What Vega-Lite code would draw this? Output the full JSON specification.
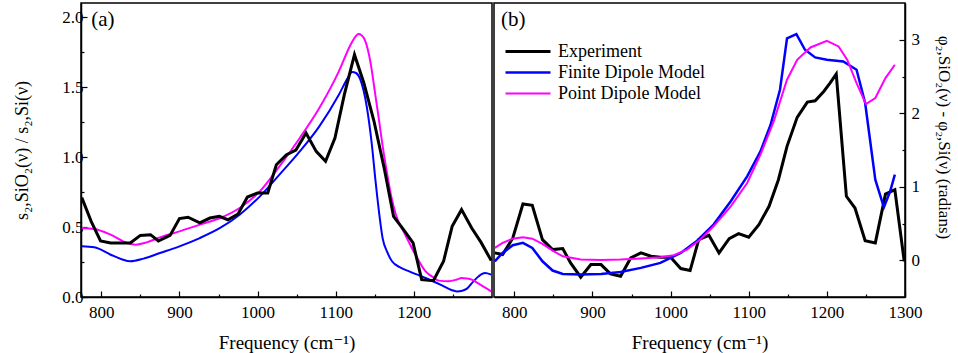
{
  "$schema": "https://vega.github.io/schema/vega-lite/v6.json",
  "padding": {"left": 13, "top": 2, "right": 2, "bottom": 2},
  "background": "white",
  "datasets": {
    "a": [
      {"s":"Experiment","f":775,"v":0.71},{"s":"Experiment","f":787,"v":0.54},{"s":"Experiment","f":799,"v":0.40},{"s":"Experiment","f":812,"v":0.386},{"s":"Experiment","f":837,"v":0.386},{"s":"Experiment","f":850,"v":0.44},{"s":"Experiment","f":863,"v":0.445},{"s":"Experiment","f":873,"v":0.40},{"s":"Experiment","f":888,"v":0.44},{"s":"Experiment","f":900,"v":0.56},{"s":"Experiment","f":911,"v":0.57},{"s":"Experiment","f":926,"v":0.53},{"s":"Experiment","f":939,"v":0.564},{"s":"Experiment","f":951,"v":0.576},{"s":"Experiment","f":962,"v":0.552},{"s":"Experiment","f":975,"v":0.593},{"s":"Experiment","f":987,"v":0.714},{"s":"Experiment","f":1000,"v":0.743},{"s":"Experiment","f":1013,"v":0.743},{"s":"Experiment","f":1024,"v":0.945},{"s":"Experiment","f":1037,"v":1.017},{"s":"Experiment","f":1049,"v":1.05},{"s":"Experiment","f":1062,"v":1.171},{"s":"Experiment","f":1075,"v":1.04},{"s":"Experiment","f":1087,"v":0.969},{"s":"Experiment","f":1099,"v":1.136},{"s":"Experiment","f":1111,"v":1.445},{"s":"Experiment","f":1124,"v":1.731},{"s":"Experiment","f":1136,"v":1.529},{"s":"Experiment","f":1149,"v":1.255},{"s":"Experiment","f":1162,"v":0.921},{"s":"Experiment","f":1174,"v":0.576},{"s":"Experiment","f":1187,"v":0.48},{"s":"Experiment","f":1199,"v":0.386},{"s":"Experiment","f":1210,"v":0.124},{"s":"Experiment","f":1225,"v":0.117},{"s":"Experiment","f":1238,"v":0.255},{"s":"Experiment","f":1249,"v":0.505},{"s":"Experiment","f":1261,"v":0.624},{"s":"Experiment","f":1274,"v":0.493},{"s":"Experiment","f":1286,"v":0.39},{"s":"Experiment","f":1299,"v":0.26},
      {"s":"Finite Dipole Model","f":775,"v":0.362},{"s":"Finite Dipole Model","f":791,"v":0.355},{"s":"Finite Dipole Model","f":812,"v":0.302},{"s":"Finite Dipole Model","f":826,"v":0.27},{"s":"Finite Dipole Model","f":837,"v":0.255},{"s":"Finite Dipole Model","f":854,"v":0.274},{"s":"Finite Dipole Model","f":875,"v":0.314},{"s":"Finite Dipole Model","f":900,"v":0.362},{"s":"Finite Dipole Model","f":926,"v":0.421},{"s":"Finite Dipole Model","f":952,"v":0.493},{"s":"Finite Dipole Model","f":977,"v":0.588},{"s":"Finite Dipole Model","f":1003,"v":0.719},{"s":"Finite Dipole Model","f":1028,"v":0.874},{"s":"Finite Dipole Model","f":1054,"v":1.04},{"s":"Finite Dipole Model","f":1079,"v":1.219},{"s":"Finite Dipole Model","f":1104,"v":1.445},{"s":"Finite Dipole Model","f":1115,"v":1.56},{"s":"Finite Dipole Model","f":1121,"v":1.607},{"s":"Finite Dipole Model","f":1126,"v":1.60},{"s":"Finite Dipole Model","f":1131,"v":1.56},{"s":"Finite Dipole Model","f":1140,"v":1.35},{"s":"Finite Dipole Model","f":1146,"v":1.10},{"s":"Finite Dipole Model","f":1151,"v":0.826},{"s":"Finite Dipole Model","f":1156,"v":0.58},{"s":"Finite Dipole Model","f":1160,"v":0.421},{"s":"Finite Dipole Model","f":1166,"v":0.32},{"s":"Finite Dipole Model","f":1172,"v":0.255},{"s":"Finite Dipole Model","f":1183,"v":0.21},{"s":"Finite Dipole Model","f":1194,"v":0.183},{"s":"Finite Dipole Model","f":1215,"v":0.136},{"s":"Finite Dipole Model","f":1236,"v":0.083},{"s":"Finite Dipole Model","f":1248,"v":0.05},{"s":"Finite Dipole Model","f":1255,"v":0.04},{"s":"Finite Dipole Model","f":1262,"v":0.045},{"s":"Finite Dipole Model","f":1268,"v":0.06},{"s":"Finite Dipole Model","f":1276,"v":0.11},{"s":"Finite Dipole Model","f":1283,"v":0.148},{"s":"Finite Dipole Model","f":1291,"v":0.171},{"s":"Finite Dipole Model","f":1299,"v":0.16},
      {"s":"Point Dipole Model","f":775,"v":0.493},{"s":"Point Dipole Model","f":791,"v":0.486},{"s":"Point Dipole Model","f":812,"v":0.445},{"s":"Point Dipole Model","f":833,"v":0.386},{"s":"Point Dipole Model","f":844,"v":0.374},{"s":"Point Dipole Model","f":858,"v":0.39},{"s":"Point Dipole Model","f":875,"v":0.426},{"s":"Point Dipole Model","f":900,"v":0.469},{"s":"Point Dipole Model","f":926,"v":0.517},{"s":"Point Dipole Model","f":952,"v":0.564},{"s":"Point Dipole Model","f":977,"v":0.636},{"s":"Point Dipole Model","f":1003,"v":0.755},{"s":"Point Dipole Model","f":1028,"v":0.933},{"s":"Point Dipole Model","f":1054,"v":1.136},{"s":"Point Dipole Model","f":1079,"v":1.35},{"s":"Point Dipole Model","f":1104,"v":1.612},{"s":"Point Dipole Model","f":1119,"v":1.802},{"s":"Point Dipole Model","f":1124,"v":1.85},{"s":"Point Dipole Model","f":1129,"v":1.879},{"s":"Point Dipole Model","f":1133,"v":1.87},{"s":"Point Dipole Model","f":1136,"v":1.85},{"s":"Point Dipole Model","f":1141,"v":1.77},{"s":"Point Dipole Model","f":1145,"v":1.66},{"s":"Point Dipole Model","f":1150,"v":1.47},{"s":"Point Dipole Model","f":1155,"v":1.279},{"s":"Point Dipole Model","f":1160,"v":1.08},{"s":"Point Dipole Model","f":1166,"v":0.874},{"s":"Point Dipole Model","f":1171,"v":0.72},{"s":"Point Dipole Model","f":1177,"v":0.588},{"s":"Point Dipole Model","f":1189,"v":0.445},{"s":"Point Dipole Model","f":1202,"v":0.302},{"s":"Point Dipole Model","f":1215,"v":0.183},{"s":"Point Dipole Model","f":1225,"v":0.14},{"s":"Point Dipole Model","f":1232,"v":0.117},{"s":"Point Dipole Model","f":1244,"v":0.112},{"s":"Point Dipole Model","f":1255,"v":0.125},{"s":"Point Dipole Model","f":1261,"v":0.136},{"s":"Point Dipole Model","f":1268,"v":0.132},{"s":"Point Dipole Model","f":1274,"v":0.124},{"s":"Point Dipole Model","f":1283,"v":0.095},{"s":"Point Dipole Model","f":1299,"v":0.04}
    ],
    "b": [
      {"s":"Experiment","f":775,"v":0.10},{"s":"Experiment","f":785,"v":0.077},{"s":"Experiment","f":798,"v":0.30},{"s":"Experiment","f":811,"v":0.766},{"s":"Experiment","f":823,"v":0.748},{"s":"Experiment","f":836,"v":0.281},{"s":"Experiment","f":849,"v":0.145},{"s":"Experiment","f":862,"v":0.159},{"s":"Experiment","f":872,"v":-0.036},{"s":"Experiment","f":885,"v":-0.231},{"s":"Experiment","f":898,"v":-0.059},{"s":"Experiment","f":911,"v":-0.059},{"s":"Experiment","f":923,"v":-0.186},{"s":"Experiment","f":936,"v":-0.217},{"s":"Experiment","f":949,"v":0.032},{"s":"Experiment","f":962,"v":0.10},{"s":"Experiment","f":975,"v":0.054},{"s":"Experiment","f":987,"v":0.041},{"s":"Experiment","f":1000,"v":0.041},{"s":"Experiment","f":1013,"v":-0.113},{"s":"Experiment","f":1025,"v":-0.14},{"s":"Experiment","f":1036,"v":0.281},{"s":"Experiment","f":1049,"v":0.34},{"s":"Experiment","f":1062,"v":0.10},{"s":"Experiment","f":1075,"v":0.294},{"s":"Experiment","f":1087,"v":0.362},{"s":"Experiment","f":1100,"v":0.313},{"s":"Experiment","f":1113,"v":0.485},{"s":"Experiment","f":1126,"v":0.734},{"s":"Experiment","f":1138,"v":1.096},{"s":"Experiment","f":1149,"v":1.55},{"s":"Experiment","f":1162,"v":1.944},{"s":"Experiment","f":1175,"v":2.152},{"s":"Experiment","f":1185,"v":2.17},{"s":"Experiment","f":1196,"v":2.297},{"s":"Experiment","f":1204,"v":2.41},{"s":"Experiment","f":1212,"v":2.533},{"s":"Experiment","f":1225,"v":0.87},{"s":"Experiment","f":1236,"v":0.711},{"s":"Experiment","f":1249,"v":0.267},{"s":"Experiment","f":1262,"v":0.236},{"s":"Experiment","f":1275,"v":0.90},{"s":"Experiment","f":1287,"v":0.96},{"s":"Experiment","f":1299,"v":-0.014},
      {"s":"Finite Dipole Model","f":775,"v":-0.014},{"s":"Finite Dipole Model","f":785,"v":0.10},{"s":"Finite Dipole Model","f":798,"v":0.204},{"s":"Finite Dipole Model","f":811,"v":0.236},{"s":"Finite Dipole Model","f":823,"v":0.168},{"s":"Finite Dipole Model","f":836,"v":-0.014},{"s":"Finite Dipole Model","f":849,"v":-0.14},{"s":"Finite Dipole Model","f":862,"v":-0.186},{"s":"Finite Dipole Model","f":885,"v":-0.195},{"s":"Finite Dipole Model","f":911,"v":-0.186},{"s":"Finite Dipole Model","f":936,"v":-0.159},{"s":"Finite Dipole Model","f":962,"v":-0.104},{"s":"Finite Dipole Model","f":987,"v":-0.036},{"s":"Finite Dipole Model","f":1013,"v":0.10},{"s":"Finite Dipole Model","f":1034,"v":0.267},{"s":"Finite Dipole Model","f":1055,"v":0.485},{"s":"Finite Dipole Model","f":1077,"v":0.802},{"s":"Finite Dipole Model","f":1098,"v":1.142},{"s":"Finite Dipole Model","f":1115,"v":1.482},{"s":"Finite Dipole Model","f":1128,"v":1.844},{"s":"Finite Dipole Model","f":1140,"v":2.32},{"s":"Finite Dipole Model","f":1149,"v":3.02},{"s":"Finite Dipole Model","f":1161,"v":3.077},{"s":"Finite Dipole Model","f":1172,"v":2.864},{"s":"Finite Dipole Model","f":1185,"v":2.76},{"s":"Finite Dipole Model","f":1200,"v":2.728},{"s":"Finite Dipole Model","f":1221,"v":2.705},{"s":"Finite Dipole Model","f":1238,"v":2.592},{"s":"Finite Dipole Model","f":1249,"v":2.139},{"s":"Finite Dipole Model","f":1262,"v":1.096},{"s":"Finite Dipole Model","f":1273,"v":0.72},{"s":"Finite Dipole Model","f":1281,"v":0.938},{"s":"Finite Dipole Model","f":1287,"v":1.165},
      {"s":"Point Dipole Model","f":775,"v":0.168},{"s":"Point Dipole Model","f":785,"v":0.236},{"s":"Point Dipole Model","f":798,"v":0.294},{"s":"Point Dipole Model","f":811,"v":0.313},{"s":"Point Dipole Model","f":823,"v":0.294},{"s":"Point Dipole Model","f":836,"v":0.222},{"s":"Point Dipole Model","f":849,"v":0.131},{"s":"Point Dipole Model","f":862,"v":0.054},{"s":"Point Dipole Model","f":885,"v":0.009},{"s":"Point Dipole Model","f":911,"v":0.005},{"s":"Point Dipole Model","f":936,"v":0.009},{"s":"Point Dipole Model","f":962,"v":0.023},{"s":"Point Dipole Model","f":987,"v":0.041},{"s":"Point Dipole Model","f":1004,"v":0.068},{"s":"Point Dipole Model","f":1021,"v":0.145},{"s":"Point Dipole Model","f":1038,"v":0.281},{"s":"Point Dipole Model","f":1055,"v":0.462},{"s":"Point Dipole Model","f":1077,"v":0.734},{"s":"Point Dipole Model","f":1098,"v":1.051},{"s":"Point Dipole Model","f":1115,"v":1.436},{"s":"Point Dipole Model","f":1132,"v":1.889},{"s":"Point Dipole Model","f":1149,"v":2.456},{"s":"Point Dipole Model","f":1162,"v":2.728},{"s":"Point Dipole Model","f":1179,"v":2.895},{"s":"Point Dipole Model","f":1200,"v":2.986},{"s":"Point Dipole Model","f":1215,"v":2.909},{"s":"Point Dipole Model","f":1226,"v":2.728},{"s":"Point Dipole Model","f":1238,"v":2.41},{"s":"Point Dipole Model","f":1250,"v":2.125},{"s":"Point Dipole Model","f":1262,"v":2.207},{"s":"Point Dipole Model","f":1275,"v":2.478},{"s":"Point Dipole Model","f":1287,"v":2.66}
    ]
  },
  "spacing": 0,
  "resolve": {"scale": {"x": "independent", "y": "independent", "color": "independent", "strokeWidth": "independent"}},
  "hconcat": [
    {
      "width": 411,
      "height": 294,
      "data": {"name": "a"},
      "encoding": {
        "x": {"field": "f", "type": "quantitative", "scale": {"domain": [774, 1300], "nice": false, "zero": false},
          "axis": {"values": [800,850,900,950,1000,1050,1100,1150,1200,1250], "labelExpr": "datum.value % 100 === 0 ? format(datum.value, 'd') : ''",
            "tickSize": {"condition": {"test": "datum.value % 100 === 0", "value": -6}, "value": -3},
            "labelFlush": false, "labelOverlap": false, "labelPadding": 13, "title": "Frequency (cm⁻¹)", "titlePadding": 10, "titleFontSize": 19}},
        "y": {"field": "v", "type": "quantitative", "scale": {"domain": [0, 2.1], "nice": false},
          "axis": {"values": [0,0.25,0.5,0.75,1,1.25,1.5,1.75,2], "labelExpr": "datum.value % 0.5 === 0 ? format(datum.value, '.1f') : ''",
            "tickSize": {"condition": {"test": "datum.value % 0.5 === 0", "value": -6}, "value": -3},
            "labelOverlap": false, "labelPadding": 4, "title": "s₂,SiO₂(ν) / s₂,Si(ν)", "titlePadding": 30}}
      },
      "layer": [
        {"transform": [{"filter": "datum.s !== 'Experiment'"}],
         "mark": {"type": "line", "interpolate": "monotone", "clip": true, "strokeWidth": 2},
         "encoding": {"color": {"field": "s", "type": "nominal", "legend": null,
           "scale": {"domain": ["Experiment", "Finite Dipole Model", "Point Dipole Model"], "range": ["#000000", "#0000ff", "#ff00ff"]}}}},
        {"transform": [{"filter": "datum.s === 'Experiment'"}],
         "mark": {"type": "line", "clip": true, "strokeWidth": 3, "color": "#000000"}},
        {"data": {"values": [{"t": "(a)", "f": 787, "v": 1.98}]},
         "mark": {"type": "text", "align": "left", "baseline": "middle", "fontSize": 21, "font": "Liberation Serif, Times New Roman, DejaVu Serif, serif", "color": "#000000"},
         "encoding": {"text": {"field": "t"}}}
      ]
    },
    {
      "width": 411,
      "height": 294,
      "data": {"name": "b"},
      "encoding": {
        "x": {"field": "f", "type": "quantitative", "scale": {"domain": [774, 1300], "nice": false, "zero": false},
          "axis": {"values": [800,850,900,950,1000,1050,1100,1150,1200,1250,1300], "labelExpr": "datum.value % 100 === 0 ? format(datum.value, 'd') : ''",
            "tickSize": {"condition": {"test": "datum.value % 100 === 0", "value": -6}, "value": -3},
            "labelFlush": false, "labelOverlap": false, "labelPadding": 13, "title": "Frequency (cm⁻¹)", "titlePadding": 10, "titleFontSize": 19}},
        "y": {"field": "v", "type": "quantitative", "scale": {"domain": [-0.5, 3.5], "nice": false, "zero": false},
          "axis": {"orient": "right", "values": [0,0.5,1,1.5,2,2.5,3], "labelExpr": "datum.value % 1 === 0 ? format(datum.value, 'd') : ''",
            "tickSize": {"condition": {"test": "datum.value % 1 === 0", "value": -6}, "value": -3},
            "labelOverlap": false, "labelPadding": 12, "title": "φ₂,SiO₂(ν) - φ₂,Si(ν) (radians)", "titlePadding": 15, "titleAngle": 90, "titleFontSize": 17, "titleY": 134}}
      },
      "layer": [
        {"mark": {"type": "line", "clip": true},
         "encoding": {
           "color": {"field": "s", "type": "nominal",
             "scale": {"domain": ["Experiment", "Finite Dipole Model", "Point Dipole Model"], "range": ["#000000", "#0000ff", "#ff00ff"]},
             "legend": {"title": null, "orient": "none", "legendX": 10, "legendY": 39, "symbolType": "stroke", "symbolSize": 2025, "symbolStrokeWidth": 3, "labelFontSize": 18, "labelFont": "Liberation Serif, Times New Roman, DejaVu Serif, serif", "labelColor": "#000000", "clipHeight": 19, "rowPadding": 2, "labelOffset": 6}},
           "strokeWidth": {"field": "s", "type": "nominal",
             "scale": {"domain": ["Experiment", "Finite Dipole Model", "Point Dipole Model"], "range": [3, 2, 2]},
             "legend": null}}},
        {"data": {"values": [{"t": "(b)", "f": 783, "v": 3.27}]},
         "mark": {"type": "text", "align": "left", "baseline": "middle", "fontSize": 21, "font": "Liberation Serif, Times New Roman, DejaVu Serif, serif", "color": "#000000"},
         "encoding": {"text": {"field": "t"}}}
      ]
    }
  ],
  "config": {
    "font": "Liberation Serif, Times New Roman, DejaVu Serif, serif",
    "view": {"stroke": "#000000", "strokeWidth": 1.5},
    "axis": {"domainColor": "#000000", "domainWidth": 1.5, "tickColor": "#000000", "tickWidth": 1.2, "labelColor": "#000000", "labelFontSize": 17, "labelFont": "Liberation Serif, Times New Roman, DejaVu Serif, serif", "titleFont": "Liberation Serif, Times New Roman, DejaVu Serif, serif", "titleFontSize": 18, "titleFontWeight": "normal", "titleColor": "#000000", "grid": false}
  }
}
